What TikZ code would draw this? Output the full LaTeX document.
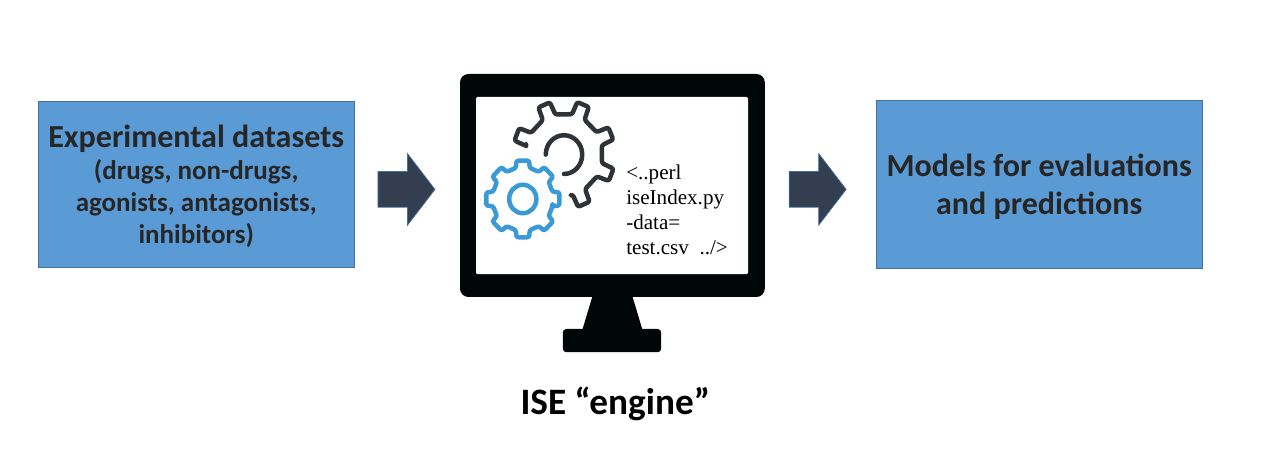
\documentclass[tikz,border=0pt]{standalone}
\usepackage{fontspec}
\setmainfont{Carlito}
\newfontfamily\codefont{Liberation Serif}
\usetikzlibrary{shapes.arrows}
\definecolor{boxblue}{HTML}{5B9BD5}
\definecolor{boxline}{HTML}{41719C}
\definecolor{arrowdark}{HTML}{333F50}
\definecolor{geardark}{HTML}{2F3338}
\definecolor{gearblue}{HTML}{3B9AD6}
\definecolor{monitor}{HTML}{010606}
\definecolor{textdark}{HTML}{262626}
\tikzset{
  databox/.style={rectangle, draw=boxline, line width=0.6pt, fill=boxblue, text=textdark, align=center, inner sep=0pt},
  flowarrow/.style={single arrow, draw=boxline, line width=0.5pt, fill=arrowdark, inner xsep=0pt, inner ysep=0.4375cm, minimum height=1.425cm, minimum width=1.775cm, single arrow head extend=0.45cm, single arrow tip angle=105, anchor=center},
  gearline/.style={line width=3.2pt, line cap=round, line join=round, rounded corners=1.5pt}
}
\begin{document}
\begin{tikzpicture}
  \useasboundingbox (0,0) rectangle (32,11.775);
  \node[databox, minimum width=7.9cm, minimum height=4.15cm, font=\bfseries\fontsize{19.2}{22.8}\selectfont] (datasets) at (4.905, 7.175)
    {\rule{0pt}{19.5pt}{\fontsize{22.8}{26}\selectfont Experimental datasets}\\ (drugs, non-drugs,\\ agonists, antagonists,\\ inhibitors)};
  \node[flowarrow] (arrowin) at (9.99, 7.04) {};
  % monitor
  \fill[monitor, rounded corners=2.5pt] (14.07, 2.97) rectangle (16.53, 3.55);
  \fill[monitor] (14.82, 4.4) -- (14.55, 3.5) -- (16.07, 3.5) -- (15.8, 4.4) -- cycle;
  \fill[monitor, rounded corners=6pt] (11.5, 4.35) rectangle (19.12, 9.925);
  \fill[white, rounded corners=1pt] (11.9, 4.92) rectangle (18.7, 9.35);
  % big gear
  \begin{scope}[shift={(14.1, 7.91)}, xscale=0.97, yscale=1.03]
    \draw[geardark, gearline] (168:1.0)
      \foreach \a in {158, 113, 68, 23, -22, -67} {
        -- (\a+10:1.0) -- (\a+7:1.32) -- (\a-7:1.32) -- (\a-10:1.0) }
      -- (-80:1.0);
    \draw[geardark, gearline] (180:0.47) arc (180:-90:0.47);
  \end{scope}
  % small gear
  \begin{scope}[shift={(13.07, 6.8)}, xscale=1.03, yscale=1.08]
    \draw[gearblue, gearline] (-13:0.74)
      \foreach \a in {0, 45, ..., 315} {
        -- (\a-13:0.74) -- (\a-10:0.9) -- (\a+10:0.9) -- (\a+13:0.74) }
      -- cycle;
    \draw[gearblue, line width=3.2pt] (0,0) circle (0.33);
  \end{scope}
  \node[font=\codefont\fontsize{15}{17.8}\selectfont, align=left, inner sep=0pt, anchor=west] (code) at (15.65, 6.54)
    {<..perl\\ iseIndex.py\\ -data=\\ test.csv\ \ ../>};
  \node[flowarrow] (arrowout) at (20.27, 7.04) {};
  \node[databox, minimum width=8.15cm, minimum height=4.2cm, font=\bfseries\fontsize{22.8}{27}\selectfont] (models) at (25.98, 7.175)
    {\rule{0pt}{19.5pt}Models for evaluations\\ and predictions};
  \node[font=\bfseries\fontsize{26.5}{30}\selectfont, text=black, inner sep=0pt] (engine) at (15.38, 1.68) {ISE “engine”};
\end{tikzpicture}
\end{document}
